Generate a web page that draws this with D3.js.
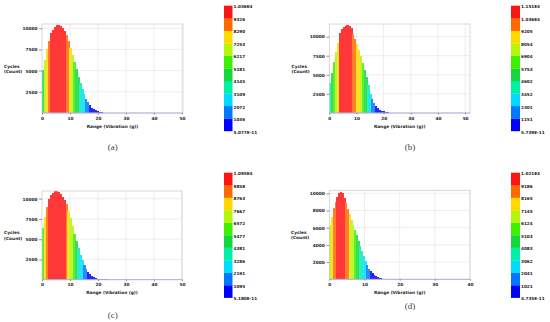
<!DOCTYPE html>
<html>
<head>
<meta charset="utf-8">
<script src="https://cdn.jsdelivr.net/npm/d3@7"></script>
<style>
  body { margin: 0; background: #fff; }
  svg { display: block; }
  text { font-family: "DejaVu Sans", sans-serif; font-weight: bold; fill: #222; }
  .caption { font-family: "Liberation Serif", serif; font-weight: normal; fill: #444; }
</style>
</head>
<body>
<div id="chart"></div>
<script>
// rainflow histogram counts per bin
const countsA = [5100, 6300, 7500, 8500, 9400, 9850, 10150, 10330, 10360, 10250, 10000, 9650, 9150, 8450, 7700, 6850, 6000, 5150, 4300, 3500, 2800, 2200, 1700, 1250, 900, 640, 440, 300, 200, 130, 85, 55, 35, 22, 14, 9, 6, 4, 3, 2];
const countsB = [3900, 5300, 6700, 8000, 9100, 10500, 10950, 11250, 11450, 11510, 11420, 11100, 10300, 9700, 9000, 8200, 7400, 6500, 5600, 4700, 3600, 2500, 1800, 1250, 880, 620, 430, 300, 200, 135, 90, 60, 40, 26, 17, 11, 7, 5, 3, 2];
const countsC = [6400, 7700, 9000, 10000, 10400, 10700, 10900, 10950, 10850, 10600, 10250, 9900, 9300, 8500, 7600, 6600, 5700, 4800, 3900, 3100, 2400, 1800, 1300, 950, 680, 480, 330, 220, 145, 95, 60, 40, 26, 17, 11, 7, 5, 3, 2];
const countsD = [6300, 7300, 8300, 9000, 9600, 10000, 10210, 10000, 9500, 8900, 8200, 7600, 6950, 6300, 5700, 5100, 4500, 3900, 3300, 2700, 2150, 1650, 1250, 930, 680, 490, 350, 250, 175, 120, 80, 54, 36, 24, 16, 10, 6, 4, 2];

// bin widths in g
const binA = 0.7, binB = 0.7, binC = 0.7, binD = 0.5;

// colour bar labels, top to bottom
const legendA = ['1.036E4', '9326', '8290', '7253', '6217', '5181', '4145', '3109', '2072', '1036', '5.077E-11'];
const legendB = ['1.151E4', '1.036E4', '9205', '8054', '6904', '5753', '4602', '3452', '2301', '1151', '5.739E-11'];
const legendC = ['1.095E4', '9858', '8763', '7667', '6572', '5477', '4381', '3286', '2191', '1095', '5.180E-11'];
const legendD = ['1.021E4', '9186', '8165', '7145', '6124', '5103', '4083', '3062', '2041', '1021', '4.735E-11'];
const legendMax = [10360, 11510, 10950, 10210];

const xTicks50 = [0, 10, 20, 30, 40, 50];
const xTicks40 = [0, 10, 20, 30, 40];
const yTicks2500 = [2500, 5000, 7500, 10000];
const yTicks2000 = [2000, 4000, 6000, 8000, 10000];
const captions = ['(a)', '(b)', '(c)', '(d)'];

// colour bands from lowest to highest
const bandColors = ['#0000ff', '#0078ff', '#00dcff', '#00f0a8', '#14d83c', '#3cf000', '#b4f50a', '#ffd800', '#ff6a00', '#ff1414'];

const panels = [
  { counts: countsA, bin: binA, xMax: 50.4, yMax: 10500, xTicks: xTicks50, yTicks: yTicks2500, legend: legendA, max: legendMax[0], caption: captions[0],
    plot: { x: 42, y: 24, w: 141, h: 89 }, cbar: { x: 224, y: 5.7, w: 8.5, h: 125.3 }, title: { x: 4, y: 67.5 }, cap: { x: 112.7, y: 149.5 } },
  { counts: countsB, bin: binB, xMax: 51.8, yMax: 11650, xTicks: xTicks50, yTicks: yTicks2500, legend: legendB, max: legendMax[1], caption: captions[1],
    plot: { x: 329.3, y: 24, w: 140.7, h: 89 }, cbar: { x: 511, y: 5.7, w: 9, h: 125.3 }, title: { x: 291.5, y: 67.5 }, cap: { x: 410, y: 149.5 } },
  { counts: countsC, bin: binC, xMax: 50, yMax: 10950, xTicks: xTicks50, yTicks: yTicks2500, legend: legendC, max: legendMax[2], caption: captions[2],
    plot: { x: 42, y: 191, w: 140, h: 88.7 }, cbar: { x: 224, y: 172.7, w: 8.5, h: 125 }, title: { x: 4, y: 234 }, cap: { x: 112.7, y: 318 } },
  { counts: countsD, bin: binD, xMax: 40, yMax: 10350, xTicks: xTicks40, yTicks: yTicks2000, legend: legendD, max: legendMax[3], caption: captions[3],
    plot: { x: 329.3, y: 190.3, w: 140.7, h: 89 }, cbar: { x: 511, y: 172.7, w: 9, h: 125 }, title: { x: 291, y: 233.5 }, cap: { x: 410, y: 309 } }
];

const svg = d3.select('#chart').append('svg')
  .attr('width', 550)
  .attr('height', 322);

// bars are a touch paler than the colour bar
const barColor = col => d3.interpolateRgb(col, '#ffffff')(0.15);

panels.forEach(function (p, k) {
  const x = d3.scaleLinear().domain([0, p.xMax]).range([p.plot.x, p.plot.x + p.plot.w]);
  const y = d3.scaleLinear().domain([0, p.yMax]).range([p.plot.y + p.plot.h, p.plot.y]);
  const band = v => Math.min(9, Math.floor(v / (p.max / 10)));

  svg.append('clipPath').attr('id', 'clip' + k)
    .append('rect')
    .attr('x', p.plot.x).attr('y', p.plot.y)
    .attr('width', p.plot.w).attr('height', p.plot.h);

  // grid
  const grid = svg.append('g').attr('stroke', '#e2e2e2').attr('stroke-width', 0.6);
  grid.selectAll('.gx').data(p.xTicks.slice(1)).enter().append('line')
    .attr('x1', d => x(d)).attr('x2', d => x(d))
    .attr('y1', p.plot.y).attr('y2', p.plot.y + p.plot.h);
  grid.selectAll('.gy').data(p.yTicks).enter().append('line')
    .attr('x1', p.plot.x).attr('x2', p.plot.x + p.plot.w)
    .attr('y1', d => y(d)).attr('y2', d => y(d));

  // bars
  svg.append('g').attr('clip-path', 'url(#clip' + k + ')')
    .attr('shape-rendering', 'crispEdges')
    .selectAll('rect').data(p.counts).enter().append('rect')
    .attr('x', (d, i) => x(i * p.bin))
    .attr('width', (d, i) => x((i + 1) * p.bin) - x(i * p.bin) + 0.4)
    .attr('y', d => y(d))
    .attr('height', d => y(0) - y(d))
    .attr('fill', d => barColor(bandColors[band(d)]));

  // frame
  svg.append('rect')
    .attr('x', p.plot.x).attr('y', p.plot.y)
    .attr('width', p.plot.w).attr('height', p.plot.h)
    .attr('fill', 'none').attr('stroke', '#c8c8c8').attr('stroke-width', 0.7);
  svg.append('line')
    .attr('x1', p.plot.x).attr('x2', p.plot.x + p.plot.w)
    .attr('y1', y(0)).attr('y2', y(0))
    .attr('stroke', '#a4a4e4').attr('stroke-width', 0.8);

  // axes
  const yAxis = d3.axisLeft(y).tickValues(p.yTicks).tickSize(3).tickPadding(1.5).tickFormat(d3.format('d'));
  const gy = svg.append('g').attr('transform', 'translate(' + p.plot.x + ',0)').call(yAxis);
  gy.select('.domain').remove();
  gy.selectAll('line').attr('stroke', '#333').attr('stroke-width', 0.5);
  gy.selectAll('text').attr('font-size', 4.3).attr('font-family', null);

  const xAxis = d3.axisBottom(x).tickValues(p.xTicks).tickSize(1.5).tickPadding(2).tickFormat(d3.format('d'));
  const gx = svg.append('g').attr('transform', 'translate(0,' + (p.plot.y + p.plot.h) + ')').call(xAxis);
  gx.select('.domain').remove();
  gx.selectAll('line').attr('stroke', '#333').attr('stroke-width', 0.5);
  gx.selectAll('text').attr('font-size', 4.3).attr('font-family', null);

  svg.append('text')
    .attr('x', p.plot.x + p.plot.w / 2)
    .attr('y', p.plot.y + p.plot.h + 14.5)
    .attr('text-anchor', 'middle')
    .attr('font-size', 4.3)
    .text('Range (Vibration (g))');

  svg.append('text').attr('x', p.title.x).attr('y', p.title.y).attr('font-size', 4.3).text('Cycles');
  svg.append('text').attr('x', p.title.x).attr('y', p.title.y + 5.8).attr('font-size', 4.3).text('(Count)');

  // colour bar
  const c = d3.scaleLinear().domain([0, p.max]).range([p.cbar.y + p.cbar.h, p.cbar.y]);
  const steps = d3.range(10).map(i => i * p.max / 10);
  svg.append('g').selectAll('rect').data(steps).enter().append('rect')
    .attr('x', p.cbar.x)
    .attr('width', p.cbar.w)
    .attr('y', d => c(d + p.max / 10))
    .attr('height', d => c(d) - c(d + p.max / 10) + 0.2)
    .attr('fill', (d, i) => bandColors[i]);

  svg.append('g').selectAll('text').data(p.legend).enter().append('text')
    .attr('x', p.cbar.x + p.cbar.w + 1)
    .attr('y', (d, i) => c(p.max * (10 - i) / 10) + 2.6)
    .attr('font-size', 4.2)
    .text(d => d);

  svg.append('text')
    .attr('class', 'caption')
    .attr('x', p.cap.x).attr('y', p.cap.y)
    .attr('text-anchor', 'middle')
    .attr('font-size', 9)
    .text(p.caption);
});
</script>
</body>
</html>
